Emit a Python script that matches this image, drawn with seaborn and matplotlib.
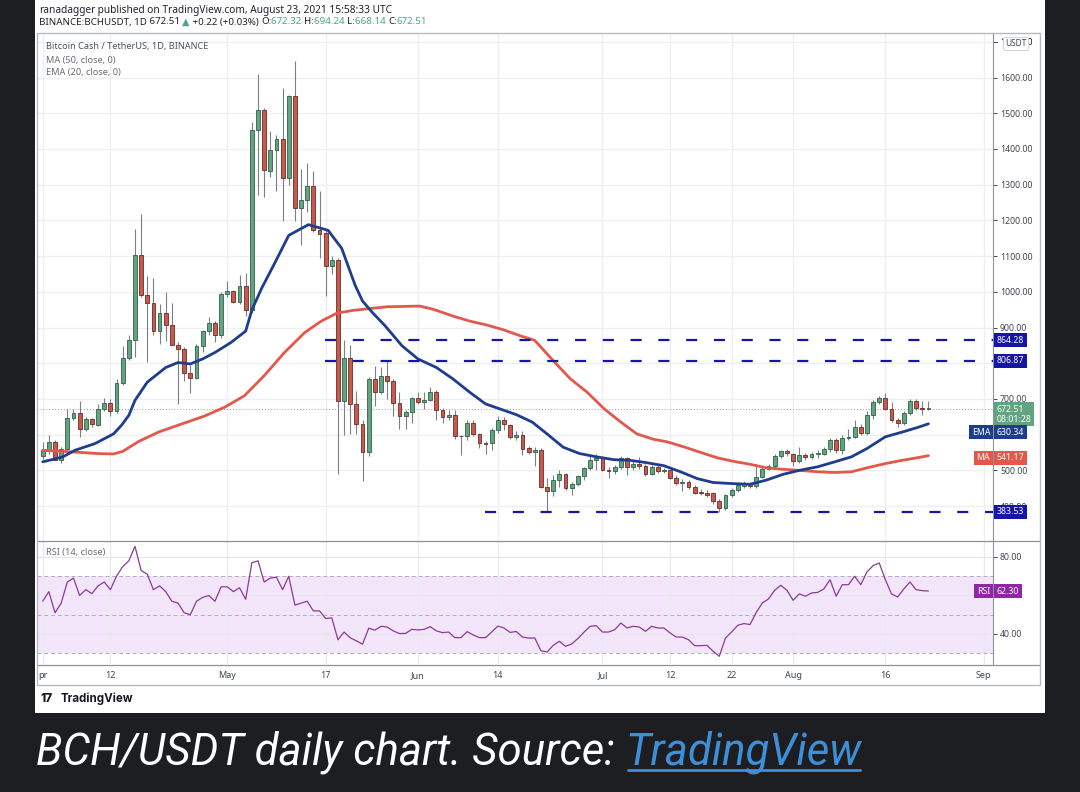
import numpy as np
import matplotlib
matplotlib.use("Agg")
import matplotlib.pyplot as plt
import matplotlib.transforms as mtransforms
from matplotlib.lines import Line2D
from matplotlib.patches import Rectangle
import seaborn as sns

W, H = 1080, 792

# ── daily candles, Apr 1 .. Aug 23 2021 (day index 0..144) ─────────────────
opens = [541, 556, 580, 530, 561, 647, 661, 615, 643, 628, 672, 689, 667, 745, 815,
         865, 1102, 990, 970, 890, 942, 907, 851, 839, 772, 758, 849, 890, 912, 880,
         995, 1002, 972, 1016, 949, 1452, 1508, 1338, 1397, 1427, 1320, 1548, 1234, 1256, 1296,
         1172, 1166, 1071, 1090, 693, 816, 686, 629, 552, 756, 719, 765, 749, 688, 652,
         663, 703, 691, 698, 719, 670, 649, 656, 597, 596, 633, 601, 578, 578, 613,
         640, 626, 593, 600, 562, 552, 558, 454, 443, 473, 489, 450, 463, 483, 507,
         530, 535, 501, 498, 510, 535, 510, 517, 513, 490, 510, 499, 502, 480, 466,
         468, 454, 440, 438, 436, 413, 395, 431, 445, 455, 462, 456, 482, 505, 512,
         540, 554, 546, 526, 544, 538, 546, 547, 559, 586, 557, 591, 594, 621, 605,
         656, 691, 702, 672, 640, 633, 660, 694, 675, 672.32]
highs = [580, 598, 584, 565, 672, 672, 695, 650, 648, 686, 702, 700, 756, 848, 879,
         1176, 1218, 1045, 1040, 965, 1000, 970, 860, 845, 795, 855, 893, 929, 918, 1000,
         1031, 1005, 1048, 1054, 1476, 1609, 1515, 1450, 1440, 1572, 1552, 1647, 1344, 1360, 1338,
         1282, 1175, 1100, 1095, 865, 850, 722, 640, 762, 792, 789, 806, 755, 720, 668,
         706, 720, 720, 734, 725, 675, 670, 670, 600, 640, 640, 605, 583, 618, 653,
         649, 630, 610, 610, 568, 565, 562, 480, 488, 500, 494, 468, 487, 510, 547,
         545, 540, 510, 515, 541, 538, 525, 537, 518, 515, 515, 508, 505, 486, 475,
         472, 458, 448, 445, 440, 420, 435, 450, 462, 470, 468, 519, 510, 518, 545,
         558, 561, 550, 566, 550, 552, 556, 565, 592, 592, 600, 615, 640, 630, 665,
         698, 709, 716, 692, 648, 665, 700, 700, 695, 694.24]
lows = [533, 547, 528, 521, 558, 640, 594, 609, 622, 625, 665, 653, 660, 738, 808,
        817, 985, 804, 878, 853, 862, 850, 686, 750, 717, 755, 831, 880, 859, 872,
        985, 968, 965, 931, 940, 1271, 1266, 1321, 1282, 1199, 1300, 1199, 1132, 1224, 1168,
        1096, 988, 1051, 491, 600, 603, 603, 469, 539, 680, 715, 700, 653, 617, 617,
        633, 685, 672, 695, 642, 633, 640, 589, 542, 586, 597, 564, 547, 558, 605,
        614, 589, 585, 544, 545, 513, 452, 384, 427, 454, 445, 430, 455, 473, 500,
        502, 497, 480, 490, 505, 486, 500, 505, 485, 487, 494, 493, 475, 460, 442,
        448, 433, 430, 425, 405, 384, 390, 425, 440, 452, 450, 452, 478, 500, 508,
        535, 540, 511, 520, 530, 533, 536, 542, 552, 550, 545, 585, 590, 598, 600,
        645, 685, 668, 635, 621, 628, 655, 668, 654, 668.14]
closes = [556, 580, 530, 561, 647, 661, 615, 643, 630, 672, 689, 667, 745, 815, 865,
          1102, 990, 970, 890, 942, 907, 851, 839, 772, 758, 849, 890, 912, 880, 995,
          1002, 971, 1016, 949, 1452, 1508, 1341, 1397, 1427, 1320, 1548, 1236, 1256, 1296, 1172,
          1162, 1071, 1090, 693, 816, 686, 629, 552, 756, 719, 765, 749, 688, 651, 663,
          703, 691, 698, 719, 670, 649, 656, 597, 595, 633, 601, 578, 575, 613, 640,
          629, 593, 600, 561, 552, 558, 454, 443, 473, 489, 450, 463, 483, 507, 530,
          535, 500, 498, 510, 535, 510, 517, 513, 490, 510, 499, 502, 480, 466, 468,
          454, 438, 436, 431, 413, 395, 431, 445, 458, 462, 456, 482, 505, 512, 540,
          554, 548, 526, 544, 538, 546, 547, 559, 586, 557, 591, 594, 621, 605, 656,
          691, 702, 672, 640, 633, 660, 694, 674, 672.29, 672.51]

# ── indicator lines ────────────────────────────────────────────────────────
ema_days = [0, 1.5, 3.3, 5.2, 8.5, 11.5, 12.8, 14, 15, 17, 20, 22, 24, 26, 28,
            30.6, 33, 34, 35.6, 37.8, 40, 43.2, 46.4, 48.6, 50.8, 52, 53.6, 55.7, 58.4, 61,
            64, 66.7, 69.4, 72, 75, 77, 79.6, 82, 84.6, 87.3, 90, 92.8, 95.5, 98, 101,
            103.7, 106.4, 109, 112, 115, 117.7, 120.4, 123, 126, 128.8, 131.5, 134, 137,
            139.7, 142.4, 144]
ema_vals = [524, 530, 538, 556, 575, 602, 626, 654, 696, 747, 788, 802, 798, 812, 830,
            858, 890, 949, 1010, 1083, 1158, 1188, 1172, 1122, 1018, 974, 942, 904, 849, 812,
            788, 756, 719, 686, 668, 656, 635, 602, 565, 547, 538, 530, 528, 522, 513,
            496, 477, 466, 463, 461, 473, 489, 500, 510, 524, 538, 561, 594,
            607, 621, 630.34]
ma_days = [0, 3.5, 6.3, 9, 11.5, 13, 15.5, 18.8, 22.6, 26.3, 29.6, 32.8, 36, 39.3, 42.6,
           45.3, 47.8, 50.5, 55.9, 61.3, 63.5, 66.7, 69.4, 72.2, 75, 77.6, 80, 83, 85.8, 88.5,
           91.3, 94, 96.6, 99.3, 101.5, 104.2, 107, 109.7, 112.4, 115, 117.7, 120.4, 123, 126,
           128.8, 131.5, 134, 137, 139.7, 142.4, 144]
ma_vals = [556, 553, 550, 547, 546, 553, 580, 607, 630, 652, 677, 709, 765, 830, 886,
           918, 940, 948, 958, 960, 951, 932, 918, 907, 893, 877, 864, 807, 756, 719,
           672, 635, 602, 587, 580, 566, 550, 535, 525, 517, 507, 503, 500, 496,
           494, 496, 507, 519, 528, 536, 541.17]
rsi_vals = [57, 62, 51, 56, 67, 69, 60, 63, 61, 65, 67, 63, 70, 75, 78,
            85.5, 73, 71, 63, 65, 62, 57, 56, 51, 50, 57, 59, 60, 57, 64.5,
            64.5, 62, 64, 58, 77, 78, 67, 69, 69.5, 63, 70, 55, 56, 57, 52,
            52, 48, 48.4, 37, 41, 38, 36.4, 34.7, 43, 42, 44, 43.6, 41.6, 40.2, 40.3,
            42.4, 42.1, 42.4, 43.8, 41.6, 40.7, 41, 38.1, 38.1, 41.2, 39.5, 38.1, 38.1, 41, 44.1,
            43.1, 40.8, 41.3, 38.4, 37.9, 37.9, 31.3, 30.6, 34.1, 36.2, 33.6, 34.8, 37.6, 40.9, 44,
            44.3, 41, 41, 42.2, 45.7, 43.1, 44, 43.6, 41.4, 44, 43.1, 43.1, 40.5, 38.4, 38.4,
            37, 33.9, 33.9, 34.1, 31, 28.4, 37.9, 41, 44.5, 45.4, 44.9, 51.2, 56.1, 58.2, 62.7,
            65.3, 62.7, 57.5, 60.8, 59.6, 61.3, 61.6, 63.4, 68.2, 59.6, 65.6, 65.6, 70, 65.6, 72.2,
            75.5, 76.9, 68.2, 60.8, 59.2, 63.4, 67, 63, 62.5, 62.3]

tick_days = [0, 11, 30, 46, 61, 74, 91, 102, 112, 122, 137, 153]
tick_labels = ["pr", "12", "May", "17", "Jun", "14", "Jul", "12", "22", "Aug", "16", "Sep"]
price_ticks = list(range(400, 1800, 100))
level_vals = [864.28, 806.87, 383.53]
level_from = [45.9, 45.9, 71.9]

last_close = 672.51
ema_last, ma_last, rsi_last = 630.34, 541.17, 62.30

# ── colours ────────────────────────────────────────────────────────────────
BG = "#1c1e21"
UP, UP_EDGE = "#62a382", "#2f6147"
DN, DN_EDGE = "#c65a4e", "#6d2a22"
EMA_C, MA_C = "#1f3d8f", "#e4584c"
LEVEL_C = "#1515a6"
RSI_C = "#8b3a98"
TXT = "#434651"

sns.set_theme(style="white")
plt.rcParams["font.family"] = ["Noto Sans", "DejaVu Sans"]


def fx(x):
    return x / W


def fy(y):
    return 1 - y / H


fig = plt.figure(figsize=(W / 100, H / 100), dpi=100, facecolor=BG)
fig.patches.append(Rectangle((fx(35), fy(713)), fx(1045) - fx(35), fy(0) - fy(713),
                             transform=fig.transFigure, facecolor="white",
                             edgecolor="none", zorder=-5))

XMIN, XMAX = -0.93, 154.5

# ── price pane ─────────────────────────────────────────────────────────────
ax = fig.add_axes([fx(37), fy(540), (993 - 37) / W, (540 - 33) / H])
ax.set_xlim(XMIN, XMAX)
ax.set_ylim(305, 1724.6)

for p in price_ticks:
    ax.axhline(p, color="#eeeff2", lw=0.9, zorder=0)
for d in tick_days:
    ax.axvline(d, color="#eeeff2", lw=0.9, zorder=0)

days = np.arange(len(closes))
o = np.array(opens, dtype=float)
c = np.array(closes, dtype=float)
up = c >= o
ax.vlines(days, lows, highs, color="#7d7f86", lw=0.8, zorder=2)
ax.bar(days, np.maximum(np.abs(c - o), 2.5), bottom=np.minimum(o, c), width=0.62,
       color=np.where(up, UP, DN), edgecolor=np.where(up, UP_EDGE, DN_EDGE),
       linewidth=0.6, zorder=3)

sns.lineplot(x=ma_days, y=ma_vals, ax=ax, color=MA_C, lw=2.0, estimator=None,
             legend=False, zorder=4)
sns.lineplot(x=ema_days, y=ema_vals, ax=ax, color=EMA_C, lw=2.0, estimator=None,
             legend=False, zorder=4)

ax.axhline(last_close, color="#9a9ca3", lw=0.7, ls=(0, (1, 2)), zorder=1)
for lv, start in zip(level_vals, level_from):
    ax.hlines(lv, start, XMAX, color=LEVEL_C, lw=1.6, ls=(0, (5, 7.5)), zorder=5)

# the 800 label sits fully under the 806.87 tag, so it is left blank
ytick_vals = price_ticks + [1700]
ax.yaxis.tick_right()
ax.set_yticks(ytick_vals)
ax.set_yticklabels(["" if v == 800 else f"{v:.2f}" for v in ytick_vals])
ax.tick_params(axis="y", labelsize=6.3, colors=TXT, length=3, width=0.7, pad=2,
               direction="out", right=True)
ax.set_xticks([])
ax.set_xlabel("")
ax.set_ylabel("")
for side in ("top", "left", "bottom"):
    ax.spines[side].set_visible(False)
ax.spines["right"].set_color("#8f929a")
ax.spines["right"].set_linewidth(0.8)

trans = mtransforms.blended_transform_factory(ax.transAxes, ax.transData)


def tag(axis, tr, y, txt, bg, x=1.004, ha="left", fs=6.3, fg="white"):
    axis.text(x, y, txt, transform=tr, ha=ha, va="center", color=fg, fontsize=fs,
              fontweight="bold", linespacing=1.15, clip_on=False, zorder=20,
              bbox=dict(boxstyle="square,pad=0.28", fc=bg, ec="none"))


for lv in level_vals:
    tag(ax, trans, lv, f"{lv:.2f}", LEVEL_C)
# tags are nudged apart the way TradingView stacks them
tag(ax, trans, last_close - 16, f"{last_close:.2f}\n08:01:28", "#62a382")
tag(ax, trans, ema_last - 24, f"{ema_last:.2f}", EMA_C)
tag(ax, trans, ema_last - 24, "EMA", EMA_C, x=0.997, ha="right")
tag(ax, trans, ma_last - 6, f"{ma_last:.2f}", MA_C)
tag(ax, trans, ma_last - 6, "MA", MA_C, x=0.997, ha="right")
ax.text(1.013, 1694, "USDT", transform=trans, ha="left", va="center", color=TXT,
        fontsize=6, clip_on=False, zorder=20,
        bbox=dict(boxstyle="round,pad=0.25", fc="white", ec="#c9cbd1", lw=0.6))

# ── RSI pane ───────────────────────────────────────────────────────────────
rax = fig.add_axes([fx(37), fy(664), (993 - 37) / W, (664 - 541) / H])
rax.set_xlim(XMIN, XMAX)
rax.set_ylim(24.4, 88.3)
rax.axhspan(30, 70, color="#f3e6fb", zorder=0, lw=0)
for g in (40, 60, 80):
    rax.axhline(g, color="#e6e6ea", lw=0.8, zorder=0.5)
for g in (30, 50, 70):
    rax.axhline(g, color="#aeb0b8", lw=0.7, ls=(0, (4, 3)), zorder=1)
for d in tick_days:
    rax.axvline(d, color="#eaeaee", lw=0.9, zorder=0.5)
sns.lineplot(x=days, y=rsi_vals, ax=rax, color=RSI_C, lw=0.9, estimator=None,
             legend=False, zorder=3)
rax.yaxis.tick_right()
rax.set_yticks([40, 60, 80])
rax.set_yticklabels(["40.00", "", "80.00"])
rax.tick_params(axis="y", labelsize=6.3, colors=TXT, length=3, width=0.7, pad=2, right=True)
rax.set_xticks(tick_days)
rax.set_xticklabels(tick_labels)
rax.tick_params(axis="x", labelsize=6.5, colors=TXT, length=0, pad=5, bottom=True)
rax.set_xlabel("")
rax.set_ylabel("")
for side in ("top", "left", "bottom"):
    rax.spines[side].set_visible(False)
rax.spines["right"].set_color("#8f929a")
rax.spines["right"].set_linewidth(0.8)
rtrans = mtransforms.blended_transform_factory(rax.transAxes, rax.transData)
tag(rax, rtrans, rsi_last, f"{rsi_last:.2f}", "#9027a6")
tag(rax, rtrans, rsi_last, "RSI", "#9027a6", x=0.997, ha="right")

# ── frame and separators ───────────────────────────────────────────────────
fig.patches.append(Rectangle((fx(37), fy(685)), (1040 - 37) / W, (685 - 33) / H,
                             transform=fig.transFigure, fill=False,
                             edgecolor="#b7b9c0", lw=1.0, zorder=30))
for yy in (540.5, 664.5):
    fig.lines.append(Line2D([fx(37), fx(1040)], [fy(yy), fy(yy)], transform=fig.transFigure,
                            color="#8f929a", lw=0.9, zorder=30))

# ── texts ──────────────────────────────────────────────────────────────────
renderer = fig.canvas.get_renderer()


def segments(x_px, y_px, parts, size, va="center", family=None, style="normal"):
    x = x_px
    out = []
    for s, col, weight in parts:
        kw = dict(color=col, fontsize=size, fontweight=weight, va=va, ha="left",
                  style=style)
        if family:
            kw["family"] = family
        t = fig.text(fx(x), fy(y_px), s, **kw)
        bb = t.get_window_extent(renderer=renderer)
        out.append((x, x + bb.width))
        x += bb.width
    return out


TEAL = "#4fa592"
segments(39, 10, [("ranadagger", "#1e222d", "bold"),
                  (" published on TradingView.com, August 23, 2021 15:58:33 UTC", "#1e222d", "normal")],
         7.3)
segments(39, 22, [("BINANCE:BCHUSDT, 1D", "#1e222d", "bold"),
                  (" 672.51 ", "#1e222d", "normal"),
                  ("▲", TEAL, "normal"),
                  (" +0.22 (+0.03%) ", "#1e222d", "normal"),
                  ("O:", "#1e222d", "bold"), ("672.32 ", TEAL, "normal"),
                  ("H:", "#1e222d", "bold"), ("694.24 ", TEAL, "normal"),
                  ("L:", "#1e222d", "bold"), ("668.14 ", TEAL, "normal"),
                  ("C:", "#1e222d", "bold"), ("672.51", TEAL, "normal")],
         7.0)

fig.text(fx(46), fy(46), "Bitcoin Cash / TetherUS, 1D, BINANCE", color="#50535e",
         fontsize=6.6, fontweight="semibold", va="center")
fig.text(fx(46), fy(60), "MA (50, close, 0)", color="#6a6d78", fontsize=6.6, va="center")
fig.text(fx(46), fy(73), "EMA (20, close, 0)", color="#6a6d78", fontsize=6.6, va="center")
fig.text(fx(46), fy(553), "RSI (14, close)", color="#6a6d78", fontsize=6.6, va="center")

fig.text(fx(40), fy(699), "17", color="#131722", fontsize=8.5, fontweight="heavy",
         va="center", family=["Inter", "DejaVu Sans"])
fig.text(fx(61), fy(699), "TradingView", color="#131722", fontsize=8.3, fontweight="bold",
         va="center", family=["Inter", "DejaVu Sans"])

cap = segments(36, 764, [("BCH/USDT daily chart. Source: ", "white", "normal"),
                         ("TradingView", "#3f8fd8", "normal")],
               31.5, va="baseline", family=["Roboto", "DejaVu Sans"], style="italic")
x0, x1 = cap[1]
fig.lines.append(Line2D([fx(x0 + 2), fx(x1 - 2)], [fy(770), fy(770)], transform=fig.transFigure,
                        color="#3f8fd8", lw=2.0))

fig.savefig("out.png", dpi=100, facecolor=fig.get_facecolor())
